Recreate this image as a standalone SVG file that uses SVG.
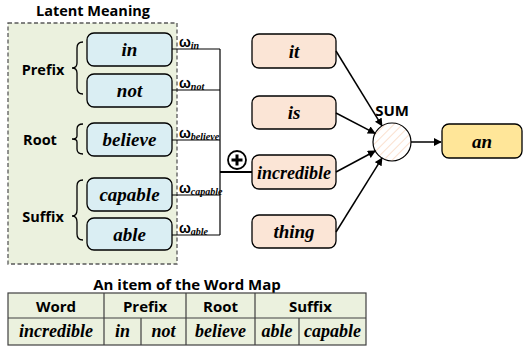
<svg xmlns="http://www.w3.org/2000/svg" width="524" height="352" viewBox="0 0 524 352">
<defs>
<style>
.sans{font-family:"Open Sans","Liberation Sans",sans-serif;font-weight:bold;fill:#000}
.ser{font-family:"Liberation Serif","Times New Roman",serif;font-weight:bold;font-style:italic;fill:#000}
.blue{fill:#DAEEF3;stroke:#000;stroke-width:1.3}
.peach{fill:#FBE5D6;stroke:#000;stroke-width:1.3}
.ln{stroke:#000;stroke-width:1.2;fill:none}
.arr{stroke:#000;stroke-width:1.5;fill:none;marker-end:url(#ah)}
.brace{stroke:#000;stroke-width:1.3;fill:none}
.om{font-family:"Liberation Sans",sans-serif;font-weight:bold;font-size:14px}
.sub{font-family:"Liberation Serif",serif;font-weight:bold;font-style:italic;font-size:10px}
.tb{fill:#EBF1DE;stroke:#404040;stroke-width:1.2}
</style>
<marker id="ah" viewBox="0 0 10 10" refX="9" refY="5" markerWidth="8" markerHeight="8" orient="auto" markerUnits="userSpaceOnUse">
<path d="M0,0 L10,5 L0,10 z" fill="#000"/>
</marker>
<pattern id="hatch" width="6" height="6" patternUnits="userSpaceOnUse" patternTransform="rotate(45)">
<rect width="6" height="6" fill="#fff"/>
<line x1="0" y1="0" x2="0" y2="6" stroke="#F8CBAD" stroke-width="1.2"/>
</pattern>
</defs>

<g id="latent-group">
<rect x="8" y="23" width="169" height="241" fill="#EBF1DE" stroke="#595959" stroke-width="1.3" stroke-dasharray="4,2.5"/>
<text class="sans" x="93" y="16" font-size="14.5" text-anchor="middle">Latent Meaning</text>
</g>

<g id="label-prefix">
<text class="sans" x="43" y="75" font-size="14.5" text-anchor="middle">Prefix</text>
<path class="brace" d="M83,42 Q77,42 77,48 L77,63 Q77,68 72,68 Q77,68 77,73 L77,88 Q77,94 83,94"/>
</g>
<g id="label-root">
<text class="sans" x="40" y="145" font-size="14.5" text-anchor="middle">Root</text>
<path class="brace" d="M83,124 Q77,124 77,129 L77,136 Q77,139 72,139 Q77,139 77,142 L77,149 Q77,154 83,154"/>
</g>
<g id="label-suffix">
<text class="sans" x="43" y="222" font-size="14.5" text-anchor="middle">Suffix</text>
<path class="brace" d="M83,180 Q77,180 77,186 L77,210 Q77,216 72,216 Q77,216 77,222 L77,234 Q77,240 83,240"/>
</g>

<g id="node-in"><rect class="blue" x="87" y="33" width="85" height="33" rx="7"/><text class="ser" x="129.5" y="56" font-size="19" text-anchor="middle">in</text></g>
<g id="node-not"><rect class="blue" x="87" y="74" width="85" height="33" rx="7"/><text class="ser" x="129.5" y="97" font-size="19" text-anchor="middle">not</text></g>
<g id="node-believe"><rect class="blue" x="87" y="123" width="85" height="33" rx="7"/><text class="ser" x="129.5" y="146" font-size="19" text-anchor="middle">believe</text></g>
<g id="node-capable"><rect class="blue" x="87" y="178" width="85" height="33" rx="7"/><text class="ser" x="129.5" y="201" font-size="19" text-anchor="middle">capable</text></g>
<g id="node-able"><rect class="blue" x="87" y="218" width="85" height="32" rx="7"/><text class="ser" x="129.5" y="241" font-size="19" text-anchor="middle">able</text></g>

<g id="node-it"><rect class="peach" x="252" y="34" width="84" height="34" rx="7"/><text class="ser" x="294" y="58" font-size="19" text-anchor="middle">it</text></g>
<g id="node-is"><rect class="peach" x="252" y="96" width="84" height="33" rx="7"/><text class="ser" x="294" y="119" font-size="19" text-anchor="middle">is</text></g>
<g id="node-incredible"><rect class="peach" x="252" y="155" width="84" height="34" rx="7"/><text class="ser" x="294" y="178.5" font-size="18" text-anchor="middle">incredible</text></g>
<g id="node-thing"><rect class="peach" x="252" y="215" width="84" height="33" rx="7"/><text class="ser" x="294" y="238" font-size="19" text-anchor="middle">thing</text></g>

<g id="node-sum">
<circle cx="392" cy="142" r="19" fill="url(#hatch)" stroke="#000" stroke-width="1.2"/>
<text class="sans" x="392" y="116" font-size="15" text-anchor="middle">SUM</text>
</g>
<g id="node-an"><rect x="442" y="124" width="80" height="34" rx="7" fill="#FFE699" stroke="#000" stroke-width="1.3"/><text class="ser" x="482" y="147.5" font-size="19" text-anchor="middle">an</text></g>

<g id="node-plus">
<circle cx="237" cy="160" r="9" fill="#fff" stroke="#000" stroke-width="1.8"/>
<path d="M237,154.5 V165.5 M231.5,160 H242.5" stroke="#000" stroke-width="3"/>
</g>

<g id="connectors">
<path class="ln" d="M172,49 H220 M172,90 H220 M172,140 H220 M172,195 H220 M172,235 H220 M220,49 V235"/>
<path d="M220,172 H252" stroke="#000" stroke-width="2"/>
<path class="arr" d="M336,51 L382,125.8"/>
<path class="arr" d="M336,113 L375.1,133.3"/>
<path class="arr" d="M336,172 L375.2,151"/>
<path class="arr" d="M336,232 L382,158.1"/>
<path class="arr" d="M411,142 L441,142"/>
</g>

<g id="weights">
<text x="179" y="47"><tspan class="om">ω</tspan><tspan class="sub" dy="2">in</tspan></text>
<text x="179" y="88"><tspan class="om">ω</tspan><tspan class="sub" dy="2">not</tspan></text>
<text x="179" y="138"><tspan class="om">ω</tspan><tspan class="sub" dy="2" font-size="9.5">believe</tspan></text>
<text x="179" y="193"><tspan class="om">ω</tspan><tspan class="sub" dy="2" font-size="9">capable</tspan></text>
<text x="179" y="233"><tspan class="om">ω</tspan><tspan class="sub" dy="2">able</tspan></text>
</g>

<g id="word-map-table">
<text class="sans" x="187" y="290" font-size="15" text-anchor="middle">An item of the Word Map</text>
<rect class="tb" x="8" y="293" width="358" height="52"/>
<path d="M8,318 H366 M104,293 V345 M186,293 V345 M255,293 V345 M141,318 V345 M299,318 V345" stroke="#404040" stroke-width="1.2" fill="none"/>
<text class="sans" x="56" y="312" font-size="15" text-anchor="middle">Word</text>
<text class="sans" x="145" y="312" font-size="15" text-anchor="middle">Prefix</text>
<text class="sans" x="220.5" y="312" font-size="15" text-anchor="middle">Root</text>
<text class="sans" x="310.5" y="312" font-size="15" text-anchor="middle">Suffix</text>
<text class="ser" x="56" y="337" font-size="18" text-anchor="middle">incredible</text>
<text class="ser" x="122.5" y="337" font-size="18" text-anchor="middle">in</text>
<text class="ser" x="163.5" y="337" font-size="18" text-anchor="middle">not</text>
<text class="ser" x="220.5" y="337" font-size="18" text-anchor="middle">believe</text>
<text class="ser" x="277" y="337" font-size="18" text-anchor="middle">able</text>
<text class="ser" x="332.5" y="337" font-size="18" text-anchor="middle">capable</text>
</g>
</svg>
